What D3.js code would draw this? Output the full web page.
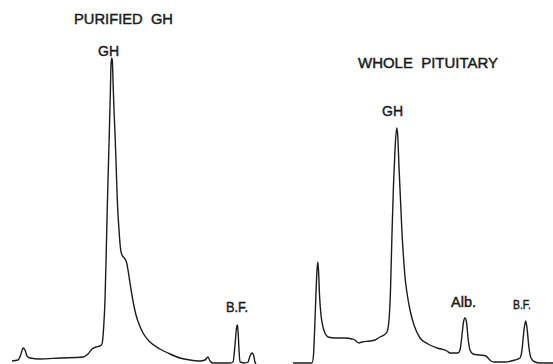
<!DOCTYPE html>
<html><head><meta charset="utf-8">
<script src="https://cdn.jsdelivr.net/npm/d3@7"></script>
<style>
html,body{margin:0;padding:0;background:#fff;}
svg{display:block;}
text{font-family:"Liberation Sans",Arial,sans-serif;fill:#1a1a1a;stroke:#1a1a1a;stroke-width:0.45px;}
</style></head>
<body>
<svg id="chart" width="553" height="364"></svg>
<script>
// Densitometer scans: migration distance (mm) vs absorbance (arbitrary units)
const purifiedDistance = [2.4,3.6,4.2,4.6,5.0,5.4,6.0,8.0,12.0,16.6,17.6,18.4,19.2,20.0,20.4,20.7,21.0,21.26,21.46,21.66,21.86,22.06,22.2,22.34,22.46,22.6,22.8,23.0,23.24,23.46,23.8,24.14,24.4,24.66,25.0,25.34,25.6,26.0,26.6,27.2,27.8,28.6,30.0,32.0,34.0,36.0,38.0,40.0,41.0,41.6,42.0,42.6,46.0,46.6,47.0,47.3,47.46,47.6,47.8,48.0,49.0,49.6,50.0,50.4,50.7,51.0,51.2];
const purifiedAbsorbance = [0.4,0.6,1.8,3.0,2.6,1.4,1.0,0.8,1.0,1.2,1.8,2.8,3.2,3.4,3.8,6.6,12.6,22.6,31.2,38.6,46.0,53.6,59.6,61.0,60.6,56.6,50.6,46.0,39.2,32.6,26.6,22.6,21.6,21.2,20.8,20.0,18.6,16.0,12.4,9.6,7.8,6.0,4.2,2.8,1.8,1.0,0.6,0.4,0.6,1.2,0.4,0,0,0.2,3.6,7.0,7.6,6.6,2.6,0.2,0,0.2,1.4,2.0,1.6,0.2,-0.2];

const wholeDistance = [58.6,62.4,62.7,63.0,63.3,63.54,63.7,63.9,64.2,64.6,65.0,65.6,67.0,69.0,70.4,71.0,71.4,71.8,72.4,74.0,75.0,76.0,76.8,77.4,77.8,78.1,78.4,78.7,79.0,79.34,79.54,79.8,80.1,80.4,80.7,81.0,81.4,82.0,82.8,84.0,85.6,87.4,89.4,90.0,91.6,92.0,92.4,92.7,93.0,93.3,93.6,94.0,94.6,96.0,97.2,97.6,98.2,98.8,101.0,103.0,104.0,104.4,104.8,105.14,105.4,105.8,106.2,107.0,108.0,110.6];
const wholeAbsorbance = [0,0,1.6,8.6,16.6,20.2,18.6,13.6,9.6,7.2,6.0,5.2,5.0,5.0,4.8,4.6,4.2,4.0,4.2,4.4,4.6,5.2,5.6,6.2,8.6,14.6,26.0,35.6,42.6,47.0,45.6,39.2,32.6,26.0,21.2,17.2,14.0,10.6,7.6,5.0,3.8,3.0,2.4,2.0,2.0,2.6,5.6,8.2,9.0,8.2,5.0,2.6,1.8,1.6,1.4,1.0,0.4,0.2,0.2,0.6,1.0,2.6,6.6,8.4,7.0,3.0,1.0,0.2,0,0];

const labelTexts = ["PURIFIED  GH","GH","B.F.","WHOLE  PITUITARY","GH","Alb.","B.F."];
// label layout: left x (mm), baseline (absorbance units), width (mm), font size (px)
const labelX = [14.8,19.6,45.2,71.6,76.4,90.2,102.6];
const labelY = [67.9,61.4,10.3,59.0,49.5,11.3,10.8];
const labelW = [19.8,4.2,4.4,28.0,4.2,5.0,3.6];
const labelSize = [15,15,14,15,15,14,13];

const svg = d3.select("#chart");
const W = 553, H = 364;
const x = d3.scaleLinear().domain([0,110.6]).range([0,W]);
const y = d3.scaleLinear().domain([0,61]).range([363,58]);

const line = d3.line().x(d=>x(d[0])).y(d=>y(d[1])).curve(d3.curveMonotoneX);

const traces = [
  d3.zip(purifiedDistance, purifiedAbsorbance),
  d3.zip(wholeDistance, wholeAbsorbance)
];
svg.selectAll("path.trace").data(traces).join("path")
  .attr("class","trace")
  .attr("d", line)
  .attr("fill","none")
  .attr("stroke","#1c1c1c")
  .attr("stroke-width",1.4)
  .attr("stroke-linejoin","round");

svg.selectAll("text.lbl").data(labelTexts).join("text")
  .attr("class","lbl")
  .attr("x",(d,i)=>x(labelX[i]))
  .attr("y",(d,i)=>y(labelY[i]))
  .attr("textLength",(d,i)=>x(labelW[i])-x(0))
  .attr("lengthAdjust","spacingAndGlyphs")
  .attr("font-size",(d,i)=>labelSize[i])
  .style("white-space","pre")
  .text(d=>d);
</script>
</body></html>
